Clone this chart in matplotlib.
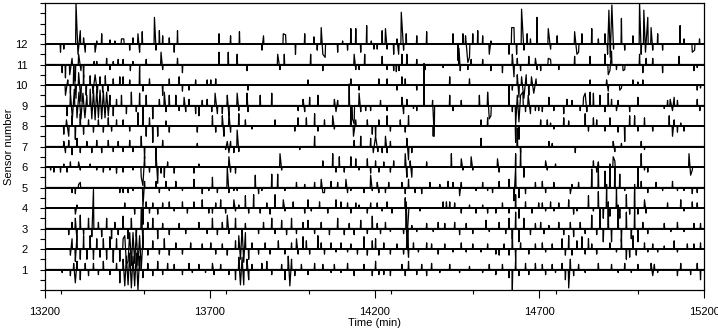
import matplotlib.pyplot as plt
from matplotlib.ticker import MultipleLocator

plt.rcParams['font.family'] = ['Liberation Sans', 'DejaVu Sans']

sensors = list(range(1, 13))
t_start, t_end = 13200, 15200
x_ticks = [13200, 13700, 14200, 14700, 15200]

# events: (time in min, deflection in sensor units)
s12 = [(13247, -0.4), (13257, -0.25), (13294, 2.0), (13300, -0.5), (13307, 0.65), (13317, 0.3),
       (13322, -0.4), (13352, -0.4), (13357, 0.15), (13372, 0.5), (13397, 0.2), (13412, 0.15),
       (13432, 0.25), (13439, 0.25), (13457, -0.3), (13467, 0.3), (13482, 0.5), (13487, -0.4),
       (13495, 0.6), (13532, 1.3), (13537, -0.3), (13547, 0.65), (13557, 0.4), (13577, 0.3),
       (13592, -0.4), (13602, 0.65),
       (13728, 0.5), (13763, 0.4), (13790, 0.6), (13858, -0.3), (13863, 0.4), (13923, 0.5),
       (13930, 0.45), (13960, -0.5), (13988, 0.5), (14016, 0.35), (14026, -0.3), (14038, 0.8),
       (14043, -0.5), (14050, -0.65), (14088, -0.4), (14103, 0.15), (14118, -0.3), (14128, 0.75),
       (14143, 0.75), (14158, -0.4), (14176, 0.9), (14190, 0.15), (14198, -0.25),
       (14208, -0.25), (14223, 0.65), (14233, 0.75), (14238, -0.25), (14258, -0.5), (14268, 0.25),
       (14273, -0.5), (14281, 1.55), (14288, -0.3), (14296, 0.5), (14328, 0.4), (14358, 0.6),
       (14438, 0.5), (14453, -0.8), (14468, 0.5), (14476, 0.4), (14483, -0.9), (14488, -0.65),
       (14498, 0.5), (14513, 0.65), (14528, 0.4), (14548, -0.5), (14553, 0.15), (14608, -0.5),
       (14616, 0.8), (14623, 0.8), (14631, -0.5), (14646, 1.7), (14653, -0.3), (14663, 0.5),
       (14673, 0.25), (14693, 1.3),
       (14727, 0.75), (14734, -0.25), (14754, 0.4), (14807, 0.6), (14814, -0.5), (14819, -0.4),
       (14829, 0.5), (14859, 0.75), (14879, 0.25), (14899, 0.5), (14907, -0.5), (14911, 1.65),
       (14915, -0.65), (14920, 1.9), (14925, -0.25), (14949, 1.25), (14959, -0.3), (14984, 0.4),
       (15004, 2.05), (15009, -0.5), (15017, 1.65), (15022, -0.4), (15029, 1.3), (15039, 0.8),
       (15044, -0.3), (15059, 0.5), (15074, -0.3), (15127, 0.9), (15139, 0.25), (15164, -0.4),
       (15171, -0.3), (15186, 0.25)]

s11 = [(13252, -0.4), (13262, -0.65), (13275, -0.5), (13282, 0.3), (13292, -0.8), (13302, 0.5),
       (13309, -0.3), (13317, -0.65), (13349, 0.15), (13357, 0.15), (13387, 0.3), (13397, -0.25),
       (13407, 0.15), (13422, 0.25), (13437, 0.25), (13459, -0.3), (13467, 0.15), (13507, 0.25),
       (13552, 0.6), (13557, -0.25), (13602, 0.3), (13617, -0.4),
       (13728, 0.6), (13756, 0.6), (13783, 0.5), (13813, -0.3), (13906, 0.5), (13913, -0.25),
       (13926, 0.5), (14006, 0.5), (14043, -0.3), (14138, 0.5), (14143, -0.25), (14153, -0.25),
       (14170, 0.5),
       (14223, 0.4), (14238, -0.25), (14258, -0.3), (14266, -0.35), (14274, -0.3), (14283, 0.5),
       (14298, 0.5), (14328, 0.25), (14353, -0.25), (14408, -0.15), (14456, 0.8), (14460, -0.3),
       (14483, -0.25), (14493, 0.25), (14528, 0.25), (14553, -0.3), (14588, -0.4), (14618, 0.5),
       (14623, -0.6), (14633, 0.3), (14643, -0.3), (14668, 0.4), (14688, 0.3), (14693, -0.25),
       (14704, -0.3), (14727, 0.3), (14734, 0.25), (14759, -0.25), (14807, 0.4), (14854, 0.4),
       (14899, 0.5), (14909, -0.5), (14914, -0.3), (14919, 0.65), (14934, -0.25), (14954, -0.3),
       (14959, -0.25), (15004, 0.5), (15014, -0.4), (15024, 0.3), (15044, 0.3), (15074, -0.4),
       (15124, 0.4), (15169, -0.3), (15179, -0.15)]

s10 = [(13262, -0.5), (13269, 0.25), (13277, -0.4), (13287, 1.0), (13294, -0.65), (13302, 0.6),
       (13309, -0.8), (13317, 0.5), (13325, -0.5), (13337, 0.45), (13345, -0.4), (13352, 0.5),
       (13359, -0.4), (13367, 0.4), (13375, -0.35), (13383, 0.45), (13391, -0.3), (13407, 0.3),
       (13427, 0.4), (13437, 0.4), (13457, 0.25), (13487, 1.0), (13497, -0.3), (13517, 0.3),
       (13557, -0.5), (13577, 0.3), (13607, 0.4), (13617, -0.3), (13637, -0.25), (13657, 0.25),
       (13692, 0.25),
       (13703, 0.25), (13718, 0.3), (13816, -0.25), (13998, 0.25), (14128, 0.3), (14153, -0.25),
       (14213, 0.3), (14238, 0.3), (14268, -0.25), (14283, 0.4), (14293, 0.3), (14328, -0.25),
       (14428, 0.4), (14488, 0.3), (14618, -0.25), (14633, 0.5), (14638, -0.6), (14646, 0.4),
       (14653, -0.65), (14660, 0.5), (14668, -0.5), (14676, 0.4), (14683, -0.4), (14690, 0.3),
       (14854, 0.25), (14904, 0.25), (14909, -0.3), (14944, -0.25), (14949, -0.15), (14984, 0.25),
       (14999, 0.15), (15014, 0.25), (15179, -0.25), (15189, -0.15)]

s9 = [(13267, -0.5), (13277, 0.65), (13283, -0.65), (13289, 0.8), (13297, -0.6), (13303, 0.65),
      (13309, -0.65), (13315, 0.6), (13321, -0.6), (13327, 0.5), (13337, 0.8), (13342, -0.65),
      (13347, 0.75), (13352, -0.7), (13357, 0.8), (13362, -0.6), (13367, 0.75), (13372, -0.65),
      (13377, 0.7), (13382, -0.6), (13387, 0.65), (13392, -0.5), (13397, 0.5), (13407, -0.5),
      (13417, 0.3), (13432, 0.5), (13447, -0.4), (13462, 0.65), (13477, -0.3), (13487, 0.6),
      (13497, -0.75), (13507, 0.5), (13527, -0.65), (13547, 0.3), (13562, 0.65), (13567, -0.3),
      (13577, 0.5), (13597, 0.5), (13607, -0.25), (13622, 0.4), (13627, -0.3), (13637, 0.3),
      (13657, -0.4), (13667, -0.5), (13677, 0.25), (13692, 0.3),
      (13706, -0.3), (13716, 0.6), (13723, -0.4), (13738, -0.4), (13753, 0.5), (13758, -0.5),
      (13783, 0.6), (13788, -0.25), (13813, 0.6), (13816, -0.3), (13853, 0.5), (13888, 0.6),
      (13968, -0.25), (13983, 0.3), (13988, -0.3), (14003, 0.4), (14028, 0.5), (14078, 0.3),
      (14083, -0.3), (14088, 0.25), (14123, 1.05), (14133, -0.65), (14138, -0.9), (14153, 0.6),
      (14158, -0.3), (14173, -0.25), (14188, -0.25),
      (14218, 0.25), (14238, -0.25), (14283, 0.4), (14288, -0.4), (14298, 0.3), (14318, -0.15),
      (14328, -0.25), (14350, 2.05), (14376, 0.25), (14381, -1.5), (14428, 0.5), (14438, -0.25),
      (14463, 0.25), (14518, 0.5), (14543, 0.65), (14548, -0.65), (14553, -0.5), (14608, 1.0),
      (14618, -0.3), (14628, -1.0), (14633, 0.5), (14638, -0.8), (14643, 0.5), (14650, 0.65),
      (14658, -0.3), (14666, 0.5), (14673, -0.4), (14688, -0.25), (14698, -0.25),
      (14709, -0.3), (14729, 0.4), (14744, -0.25), (14774, -0.4), (14784, 0.3), (14799, 0.25),
      (14824, -0.25), (14834, 0.4), (14839, 0.6), (14844, -0.3), (14854, 0.65), (14864, 0.6),
      (14884, 0.5), (14899, -0.3), (14909, 0.6), (14919, 0.3), (14934, -0.25), (14939, 0.25),
      (14974, -0.3), (14999, 0.4), (15079, -0.15), (15089, 0.25), (15097, 0.3), (15104, -0.25),
      (15109, 0.4), (15119, 0.25), (15179, 0.3), (15187, -0.25)]

s8 = [(13257, -0.4), (13265, 0.3), (13272, -0.5), (13282, 0.5), (13292, -0.65), (13307, 0.6),
      (13317, -0.4), (13332, 0.3), (13347, -0.3), (13362, 0.3), (13377, -0.3), (13392, 0.4),
      (13402, -0.25), (13417, 0.3), (13437, 0.3), (13457, -0.25), (13482, 0.65), (13497, 0.8),
      (13507, -0.5), (13517, 0.4), (13527, -0.8), (13542, -0.5), (13567, 0.25), (13577, -0.3),
      (13662, -0.3),
      (13708, 0.5), (13718, -0.3), (13738, 0.5), (13743, -0.5), (13758, 0.65), (13763, -0.3),
      (13788, 0.6), (13808, 0.3), (13828, -0.15), (13898, 0.3), (13958, -0.25), (13968, 0.4),
      (13993, 0.4), (14018, 0.6), (14028, -0.25), (14048, 0.3), (14073, 0.5), (14078, -0.15),
      (14128, 1.0), (14136, -0.5), (14143, 0.3), (14178, 0.3), (14193, -0.4),
      (14203, -0.5), (14213, 0.3), (14238, 0.5), (14248, -0.25), (14278, 0.3), (14293, -0.3),
      (14303, 0.5), (14378, -0.5), (14523, 0.3), (14543, 0.4), (14628, -0.8), (14638, -0.65),
      (14704, 0.3), (14724, 0.3), (14734, 0.15), (14744, -0.15), (14774, 0.4), (14789, 0.25),
      (14839, 0.6), (14849, -0.25), (14864, 0.4), (14874, 0.3), (14899, -0.25), (14914, 0.4),
      (14939, -0.3), (14959, -0.75), (14974, 0.5), (14989, 0.5), (14999, -0.25), (15019, 0.4),
      (15044, -0.25), (15094, 0.5), (15104, -0.5), (15109, 0.3), (15119, -0.3), (15129, 0.15),
      (15139, -0.25)]

s7 = [(13257, 0.25), (13262, -0.3), (13272, 0.3), (13282, -0.4), (13297, 0.4), (13307, -0.3),
      (13327, 0.25), (13342, -0.3), (13357, 0.3), (13372, -0.3), (13392, 0.3), (13407, -0.25),
      (13422, 0.25), (13437, -0.25), (13457, 0.3), (13467, -0.25), (13492, 0.5), (13502, -0.6),
      (13537, -0.5), (13557, 0.3), (13662, 0.15),
      (13748, -0.15), (13753, 0.25), (13758, -0.3), (13763, 0.25), (13773, -0.3), (13783, 0.8),
      (13788, -0.25), (13973, -0.15), (14018, 0.5), (14138, 0.3), (14158, 0.5), (14188, 0.4),
      (14196, -0.3),
      (14203, 0.5), (14210, -0.25), (14223, -0.3), (14233, 0.5), (14238, -0.3), (14248, 0.25),
      (14298, 0.4), (14303, -0.65), (14313, -0.3), (14523, 0.4), (14633, 0.9), (14643, -0.3),
      (14729, 0.25), (14739, 0.15), (14809, -0.3), (14924, 0.25), (14929, -0.25), (14949, 0.15),
      (15009, 0.25), (15019, -0.15)]

s6 = [(13217, -0.15), (13227, -0.25), (13247, -0.25), (13257, 0.15), (13267, -0.25), (13277, 0.25),
      (13302, 0.25), (13307, -0.15), (13337, 0.15), (13357, -0.15), (13377, -0.25), (13397, -0.15),
      (13417, -0.3), (13437, -0.25), (13467, -0.15), (13492, -0.5), (13497, -0.9), (13502, 0.5),
      (13517, -0.25), (13537, 0.65), (13542, -0.8), (13552, -0.3), (13562, -0.5), (13572, 0.25),
      (13592, -0.3), (13652, -0.3), (13667, 0.15),
      (13758, 0.5), (13763, -0.25), (13778, -0.3), (13913, 0.65), (13918, -0.15), (14043, 0.3),
      (14073, 0.65), (14083, -0.25), (14093, 0.5), (14108, -0.25), (14128, 0.5), (14143, 0.4),
      (14153, -0.15), (14178, 0.4), (14188, -0.3),
      (14203, 0.3), (14213, -0.25), (14228, 0.25), (14248, -0.25), (14258, 0.3), (14293, 0.65),
      (14298, -0.5), (14308, 0.3), (14313, -0.5), (14358, 0.25), (14433, 0.65), (14463, 0.4),
      (14468, -0.15), (14493, 0.5), (14498, -0.15), (14573, 0.4), (14578, -0.25), (14628, 0.65),
      (14643, 0.8), (14653, -0.5),
      (14719, 0.3), (14724, -0.15), (14749, 0.15), (14864, 0.3), (14874, -0.25), (14879, 0.25),
      (14924, 0.5), (14929, 0.3), (15009, 0.65), (15019, -0.15), (15029, -0.25), (15154, 0.65),
      (15159, -0.4), (15164, -0.15)]

s5 = [(13282, -0.25), (13292, -0.3), (13302, 0.15), (13307, 0.25), (13427, -0.25), (13437, -0.25),
      (13452, -0.25), (13467, -0.15), (13497, -1.0), (13502, 0.3), (13537, 0.3), (13547, -0.25),
      (13567, 0.3), (13577, -0.15), (13597, 0.3), (13617, -0.15), (13652, 0.4), (13677, -0.3),
      (13697, -0.15),
      (13708, 0.5), (13723, -0.25), (13753, 1.0), (13758, -0.25), (13773, -0.15), (13783, -0.15),
      (13838, 0.6), (13848, -0.3), (13858, -0.15), (13888, 0.65), (13906, 0.65), (13928, -0.15),
      (13963, 0.25), (13988, 0.15), (14018, 0.25), (14038, 0.4), (14043, -0.25), (14048, -0.25),
      (14068, 0.3), (14088, 0.25), (14113, 0.4), (14118, -0.25), (14128, -0.15), (14168, -0.25),
      (14188, 0.6), (14193, -0.15),
      (14208, 0.25), (14213, -0.25), (14233, -0.25), (14243, 0.25), (14283, 0.25), (14293, -0.3),
      (14303, 0.4), (14323, -0.25), (14343, -0.3), (14368, 0.25), (14398, 0.15), (14423, 0.3),
      (14438, 0.25), (14458, -0.4), (14463, 0.25), (14508, -0.15), (14528, 0.25), (14543, -0.15),
      (14558, -0.25), (14578, 0.3), (14608, 0.4), (14623, -0.65), (14628, 1.0), (14638, -0.5),
      (14658, -0.3), (14688, 0.25),
      (14709, 0.3), (14719, -0.25), (14744, 0.25), (14794, -0.3), (14799, 0.15), (14819, 0.25),
      (14859, 0.9), (14879, 1.0), (14899, 0.8), (14914, 1.15), (14929, 1.0), (14944, 0.65),
      (14959, -0.15), (14999, 1.0), (15009, 0.3), (15029, -0.25), (15054, 0.25), (15074, -0.15),
      (15104, 0.3), (15119, -0.15), (15139, -0.15), (15164, -0.3), (15179, -0.25)]

s4 = [(13292, -0.3), (13297, 0.15), (13442, 0.25), (13472, -0.3), (13497, -0.8), (13507, 0.3),
      (13517, -0.25), (13527, 0.25), (13542, -0.3), (13557, 0.25), (13577, 0.3), (13592, -0.15),
      (13617, 0.3), (13632, -0.25), (13652, 0.3), (13677, 0.4), (13697, -0.25),
      (13708, -0.25), (13718, 0.25), (13733, 0.4), (13748, -0.25), (13773, 0.4), (13778, -0.15),
      (13788, 0.15), (13808, 0.6), (13818, -0.25), (13833, 0.65), (13853, -0.25), (13873, 0.25),
      (13883, -0.3), (13898, 0.65), (13923, 0.4), (13928, -0.15), (13953, 0.3), (13988, -0.25),
      (13998, 0.4), (14008, -0.15), (14033, 0.3), (14058, -0.25), (14083, 0.4), (14098, 0.3),
      (14118, 0.25), (14128, -0.25), (14143, 0.25), (14153, 0.15), (14178, -0.25), (14188, 0.25),
      (14208, 0.25), (14223, -0.15), (14238, 0.3), (14253, -0.25), (14293, 0.5), (14298, -1.6),
      (14303, -0.25), (14338, -0.15), (14408, 0.3), (14418, 0.3), (14428, 0.3), (14443, 0.25),
      (14463, -0.25), (14488, 0.15), (14508, -0.25), (14528, 0.15), (14543, -0.25), (14568, -0.25),
      (14588, 0.25), (14608, -0.25), (14628, 0.65), (14638, -0.5), (14658, 0.3), (14678, -0.25),
      (14698, 0.25),
      (14709, 0.25), (14719, -0.15), (14734, 0.3), (14744, -0.15), (14759, 0.25), (14789, 0.4),
      (14804, -0.3), (14814, -0.15), (14849, 0.6), (14864, -0.15), (14879, 0.8), (14894, -0.5),
      (14904, 1.15), (14914, -0.4), (14934, 1.0), (14944, -0.5), (14964, 0.65), (14974, -0.3),
      (14989, 1.15), (14999, -0.3), (15019, 0.4), (15024, -0.25), (15089, 0.25), (15129, 0.4),
      (15139, -0.15), (15164, 0.3), (15179, 0.25)]

s3 = [(13272, -0.3), (13282, 0.3), (13292, 0.5), (13297, -0.6), (13307, 0.65), (13317, -0.3),
      (13332, 0.5), (13342, -0.4), (13347, 1.9), (13362, 0.3), (13372, -0.4), (13387, 0.5),
      (13402, -0.5), (13412, 0.3), (13422, -0.3), (13437, 0.6), (13452, -0.5), (13462, 0.5),
      (13477, -0.4), (13492, 1.0), (13497, -0.65), (13512, 0.3), (13527, 0.5), (13542, -0.5),
      (13557, 0.25), (13577, -0.3), (13607, 0.25), (13627, -0.25), (13667, 0.3), (13692, -0.25),
      (13708, 0.5), (13723, -0.3), (13738, 0.3), (13753, 0.65), (13758, -0.25), (13778, 0.5),
      (13798, -0.3), (13808, 0.25), (13848, -0.25), (13863, 0.3), (13888, 0.5), (13898, -0.25),
      (13918, 0.4), (13933, -0.3), (13948, 0.5), (13963, -0.25), (13983, 0.3), (13998, 0.4),
      (14018, -0.25), (14038, 0.3), (14063, -0.3), (14088, 0.5), (14108, -0.3), (14123, 0.25),
      (14138, -0.3), (14158, 0.4), (14178, -0.25), (14193, 0.6),
      (14208, 0.25), (14218, -0.25), (14233, 0.3), (14248, -0.15), (14288, -0.25), (14296, 1.3),
      (14301, -1.0), (14313, 0.15), (14328, -0.15), (14358, 0.25), (14378, -0.15), (14393, 0.3),
      (14413, 0.25), (14443, 0.3), (14458, -0.3), (14478, 0.25), (14498, -0.25), (14538, 0.4),
      (14548, -0.15), (14578, 0.3), (14598, -0.25), (14608, 0.5), (14618, -0.5), (14628, 0.8),
      (14638, -0.65), (14653, 0.5), (14673, -0.3), (14688, 0.25),
      (14704, 0.3), (14714, -0.25), (14729, 0.15), (14759, 0.3), (14774, -0.3), (14794, 0.3),
      (14804, -0.4), (14824, 0.3), (14839, -0.25), (14859, 0.65), (14874, -0.3), (14884, 1.0),
      (14894, -0.65), (14909, 1.3), (14919, -0.65), (14939, 1.15), (14949, -0.65), (14964, 0.8),
      (14979, -0.5), (14989, 1.0), (14999, -0.65), (15014, 0.3), (15029, -0.25), (15079, 0.25),
      (15099, -0.15), (15119, 0.3), (15139, -0.15), (15169, 0.25), (15189, 0.25)]

s2 = [(13277, -0.3), (13282, 0.5), (13292, -0.6), (13297, 0.65), (13307, -0.5), (13317, 0.65),
      (13327, -0.5), (13337, 0.65), (13347, -0.5), (13357, 0.5), (13367, -0.4), (13377, 0.5),
      (13387, -0.5), (13397, 0.6), (13407, -0.65), (13417, 0.5), (13427, -0.6), (13437, 0.5),
      (13442, 0.65), (13447, -0.75), (13452, -0.6), (13457, 0.8), (13462, -0.8), (13467, 0.8),
      (13472, -0.7), (13477, 0.8), (13482, -0.8), (13487, 0.65), (13492, -1.0), (13497, 0.5),
      (13512, -0.3), (13527, 0.4), (13547, -0.25), (13562, 0.5), (13577, -0.3), (13597, 0.3),
      (13617, -0.25), (13642, 0.3), (13677, 0.25),
      (13703, 0.3), (13718, -0.25), (13738, 0.25), (13753, -0.3), (13778, 0.4), (13788, 0.65),
      (13793, -0.5), (13798, 1.0), (13803, -0.65), (13808, 0.8), (13818, -0.5), (13828, 0.3),
      (13848, -0.25), (13868, 0.3), (13883, -0.25), (13908, 0.4), (13928, -0.25), (13948, 0.3),
      (13963, 0.5), (13968, -0.25), (13983, 0.6), (13993, 0.4), (14003, -0.25), (14028, 0.65),
      (14038, 0.3), (14048, -0.25), (14068, 0.3), (14083, -0.15), (14098, 0.3), (14118, -0.15),
      (14128, 0.25), (14148, -0.25), (14168, 0.6), (14178, -0.3), (14193, 0.4),
      (14203, 0.5), (14213, -0.3), (14228, 0.3), (14248, -0.25), (14268, 0.25), (14288, -0.25),
      (14298, 0.65), (14303, -0.4), (14318, 0.3), (14333, -0.15), (14358, 0.3), (14373, 0.25),
      (14393, -0.25), (14413, 0.25), (14438, -0.15), (14463, 0.3), (14478, -0.15), (14498, 0.25),
      (14523, -0.15), (14543, 0.25), (14568, -0.25), (14578, -0.3), (14593, 0.25), (14608, -0.3),
      (14618, 1.0), (14628, -0.5), (14643, 0.3), (14668, -0.25), (14688, 0.25),
      (14709, 0.3), (14719, -0.15), (14739, 0.25), (14769, 0.5), (14779, -0.3), (14789, 0.65),
      (14799, -0.3), (14814, 0.4), (14829, 0.6), (14839, -0.25), (14849, 0.5), (14859, 0.25),
      (14874, -0.25), (14914, 0.3), (14934, -0.15), (14949, 0.5), (14964, -0.5), (14974, -0.4),
      (14984, 0.65), (14994, -0.3), (15019, 0.3), (15029, -0.15), (15044, 0.25), (15059, -0.15),
      (15079, 0.15), (15109, 0.4), (15119, -0.15), (15149, 0.25), (15169, 0.25), (15189, 0.3)]

s1 = [(13252, -0.15), (13277, -0.3), (13287, 0.3), (13292, -0.65), (13297, 0.4), (13307, -0.5),
      (13322, 0.3), (13332, -0.3), (13347, 0.3), (13362, -0.25), (13377, 0.4), (13397, -0.25),
      (13417, 0.3), (13427, -0.65), (13437, 0.5), (13442, -0.8), (13447, 0.65), (13452, -0.75),
      (13457, 0.8), (13462, -0.9), (13467, 0.65), (13472, -0.8), (13477, 0.8), (13482, -1.0),
      (13487, 0.65), (13497, -0.4), (13512, 0.3), (13527, -0.3), (13542, 0.4), (13557, -0.25),
      (13572, 0.3), (13592, 0.25), (13617, -0.25), (13637, 0.3), (13647, -0.15), (13667, 0.25),
      (13687, -0.15),
      (13708, 0.3), (13713, -0.25), (13733, 0.25), (13758, -0.25), (13778, -0.5), (13788, 0.6),
      (13793, -0.75), (13798, 0.6), (13803, -0.75), (13813, 0.5), (13818, -0.5), (13828, 0.25),
      (13858, 0.3), (13873, 0.4), (13888, -0.25), (13918, 0.25), (13928, -0.5), (13938, 0.65),
      (13943, -0.8), (13948, 0.5), (13958, -0.3), (13978, 0.25), (13998, -0.25), (14018, 0.3),
      (14043, 0.25), (14068, -0.15), (14078, 0.25), (14098, -0.15), (14118, 0.3), (14138, -0.3),
      (14168, 0.25), (14193, -0.3),
      (14203, 0.4), (14213, -0.25), (14228, -0.25), (14248, -0.3), (14283, 0.25), (14293, -0.3),
      (14303, 0.4), (14328, -0.25), (14343, 0.25), (14358, -0.3), (14373, 0.3), (14398, -0.15),
      (14428, 0.25), (14458, -0.15), (14488, 0.15), (14528, -0.15), (14548, 0.25), (14568, -0.25),
      (14588, 0.25), (14608, -0.4), (14618, -1.0), (14628, 0.5), (14638, -0.3), (14658, 0.3),
      (14668, -0.25), (14688, 0.3),
      (14709, 0.25), (14719, -0.25), (14739, 0.25), (14749, -0.15), (14769, 0.3), (14779, -0.5),
      (14789, -0.9), (14794, 0.5), (14804, -0.3), (14819, 0.25), (14839, -0.15), (14879, 0.3),
      (14919, 0.25), (14939, -0.15), (14959, 0.3), (14979, -0.15), (14999, 0.25), (15039, 0.3),
      (15044, -0.3), (15049, 0.25), (15059, -0.15), (15119, -0.3), (15129, 0.3), (15159, -0.25),
      (15179, 0.3), (15189, -0.5)]

traces = [s1, s2, s3, s4, s5, s6, s7, s8, s9, s10, s11, s12]


def trace_xy(events, base, gap=7, w=1.2):
    # spikes sit on the baseline; close events join up into one wiggle
    xs, ys = [t_start], [base]
    prev = None
    for t, a in sorted(events):
        if prev is None or t - prev > gap:
            if prev is not None:
                xs.append(prev + w)
                ys.append(base)
            xs.append(t - w)
            ys.append(base)
        xs.append(t)
        ys.append(base + a)
        prev = t
    xs += [prev + w, t_end]
    ys += [base, base]
    return xs, ys


fig = plt.figure(figsize=(7.18, 3.30), dpi=100)
ax = fig.add_axes([0.0627, 0.1212, 0.918, 0.8697])

ax.hlines(sensors, t_start, t_end, color='black', lw=1.4, zorder=2)
for n, ev in zip(sensors, traces):
    xs, ys = trace_xy(ev, n)
    ax.plot(xs, ys, color='black', lw=0.9, zorder=3)

ax.set_xlim(t_start, t_end)
ax.set_ylim(0, 14)
ax.set_xticks(x_ticks)
ax.xaxis.set_minor_locator(MultipleLocator(250))
ax.set_yticks(sensors)
ax.yaxis.set_minor_locator(MultipleLocator(0.5))

ax.tick_params(axis='x', which='major', length=5.5, width=0.8, pad=6.5, labelsize=8)
ax.tick_params(axis='x', which='minor', length=3, width=0.8)
ax.tick_params(axis='y', which='both', length=3.5, width=0.8, pad=9, labelsize=8)
for s in ax.spines.values():
    s.set_linewidth(0.9)

ax.set_xlabel('Time (min)', fontsize=8, labelpad=1)
ax.set_ylabel('Sensor number', fontsize=8, labelpad=1)

plt.savefig('out.png', dpi=100)
